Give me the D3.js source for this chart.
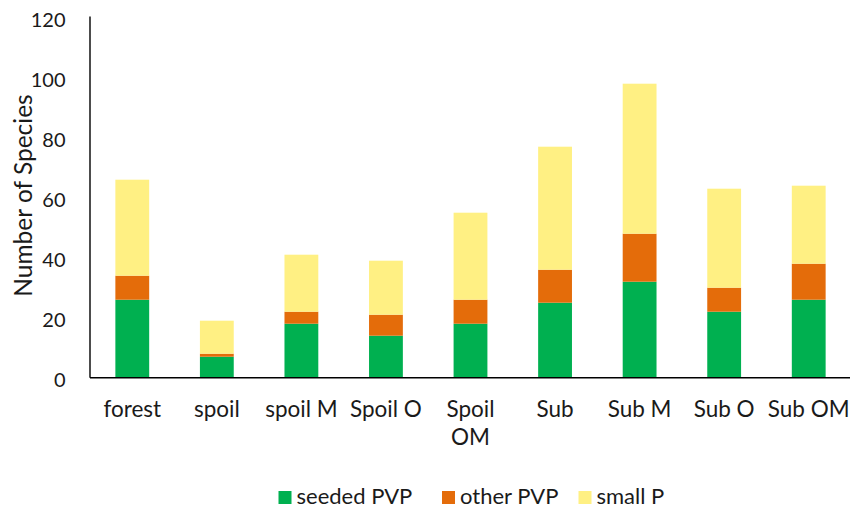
<!DOCTYPE html>
<html>
<head>
<meta charset="utf-8">
<script src="https://cdn.jsdelivr.net/npm/d3@7"></script>
<style>
  body { margin: 0; background: #fff; }
  text { font-family: Lato, "Open Sans", sans-serif; fill: #1a1a1a; }
</style>
</head>
<body>
<div class="chart"></div>
<script>
// data
var categories = ["forest", "spoil", "spoil M", "Spoil O", "Spoil OM", "Sub", "Sub M", "Sub O", "Sub OM"];
var seededPVP = [26, 7, 18, 14, 18, 25, 32, 22, 26];
var otherPVP  = [8, 1, 4, 7, 8, 11, 16, 8, 12];
var smallP    = [32, 11, 19, 18, 29, 41, 50, 33, 26];
var seriesNames = ["seeded PVP", "other PVP", "small P"];
var colors = ["#00B050", "#E46C0A", "#FFF083"];
var yTicks = [0, 20, 40, 60, 80, 100, 120];

var width = 850, height = 509;
var mLeft = 90, mRight = 851, mTop = 17.7, mBottom = 377.7;

var rows = categories.map(function (c, i) {
    return { cat: c, s0: seededPVP[i], s1: otherPVP[i], s2: smallP[i] };
});

var svg = d3.select(".chart").append("svg")
    .attr("width", width)
    .attr("height", height);

var x = d3.scaleBand()
    .domain(categories)
    .range([mLeft, mRight])
    .paddingInner(0.6)
    .paddingOuter(0.3);

var y = d3.scaleLinear()
    .domain([0, 120])
    .range([mBottom, mTop]);

var stack = d3.stack().keys(["s0", "s1", "s2"]);
var layers = stack(rows);

svg.selectAll("g.layer")
    .data(layers)
    .enter()
    .append("g")
    .attr("class", "layer")
    .attr("fill", function (d, i) { return colors[i]; })
    .selectAll("rect")
    .data(function (d) { return d; })
    .enter()
    .append("rect")
    .attr("x", function (d) { return x(d.data.cat); })
    .attr("width", x.bandwidth())
    .attr("y", function (d) { return y(d[1]); })
    .attr("height", function (d) { return y(d[0]) - y(d[1]); });

// y axis, no tick marks
var yAxis = svg.append("g")
    .attr("transform", "translate(" + mLeft + ",0)")
    .call(d3.axisLeft(y).tickValues(yTicks).tickSize(0).tickPadding(0));
yAxis.select(".domain").attr("stroke", "#000").attr("stroke-width", 1.4)
    .attr("d", "M0," + (mTop - 1.2) + "V" + mBottom);
yAxis.selectAll(".tick text")
    .attr("x", -24.5)
    .attr("y", 1.5)
    .attr("dy", "0.36em")
    .style("font-size", "20px");

// x axis
var xAxis = svg.append("g")
    .attr("transform", "translate(0," + mBottom + ")")
    .call(d3.axisBottom(x).tickSize(0).tickPadding(0));
xAxis.select(".domain").attr("stroke", "#000").attr("stroke-width", 1.4)
    .attr("d", "M" + mLeft + ",0H" + width);
xAxis.selectAll(".tick text").remove();
xAxis.selectAll(".tick").each(function (d) {
    var t = d3.select(this).append("text")
        .attr("text-anchor", "middle")
        .style("font-size", "22.5px");
    var lines = d === "Spoil OM" ? ["Spoil", "OM"] : [d];
    lines.forEach(function (l, i) {
        t.append("tspan").attr("x", 0).attr("y", 39 + i * 28.5).text(l);
    });
});

// y title
svg.append("text")
    .attr("transform", "translate(32,195.5) rotate(-90)")
    .attr("text-anchor", "middle")
    .style("font-size", "24.5px")
    .text("Number of Species");

// legend
var legendX = [278.5, 442, 578.5];
var legend = svg.selectAll("g.legend")
    .data(seriesNames)
    .enter()
    .append("g")
    .attr("class", "legend")
    .attr("transform", function (d, i) { return "translate(" + legendX[i] + ",491)"; });
legend.append("rect")
    .attr("width", 13)
    .attr("height", 13)
    .attr("fill", function (d, i) { return colors[i]; });
legend.append("text")
    .attr("x", 18)
    .attr("y", 13)
    .style("font-size", "22px")
    .text(function (d) { return d; });
</script>
</body>
</html>
